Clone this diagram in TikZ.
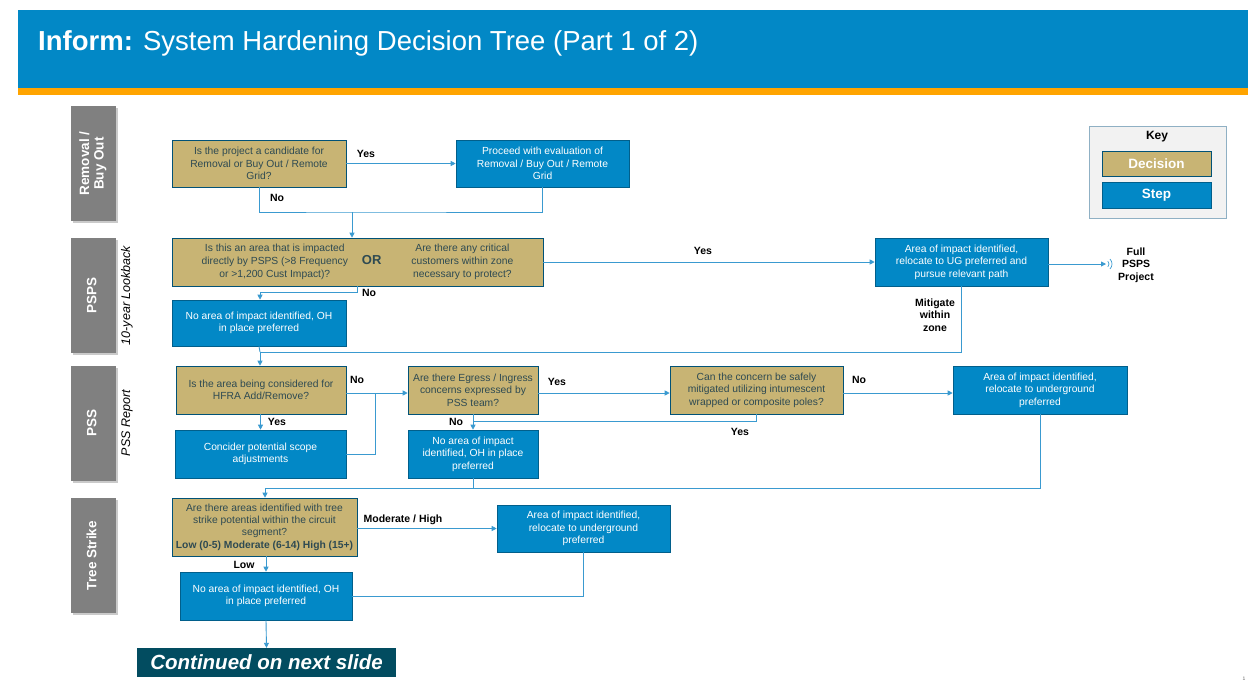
\documentclass[tikz,border=0pt]{standalone}
\usepackage{fontspec}
\setmainfont{Liberation Sans}
\usetikzlibrary{arrows.meta,shadows}

\definecolor{hdrblue}{HTML}{0288C6}
\definecolor{hdrorange}{HTML}{FFA400}
\definecolor{stepblue}{HTML}{0288C6}
\definecolor{dectan}{HTML}{C8B474}
\definecolor{dectext}{HTML}{2E4A52}
\definecolor{lanegray}{HTML}{808080}
\definecolor{linkblue}{HTML}{3A9AD0}
\definecolor{contteal}{HTML}{024C60}
\definecolor{keyfill}{HTML}{F2F2F2}
\definecolor{keydraw}{HTML}{8FB0C4}

\newcommand{\boxfont}{\fontsize{10.3}{12.4}\selectfont}

\begin{document}
\begin{tikzpicture}[x=1pt, y=-1pt,
    % box styles
    dims/.style 2 args={minimum width=#1pt, minimum height=#2pt},
    decision/.style={draw=stepblue!60!black, fill=dectan, text=dectext, font=\boxfont, align=center, inner sep=1pt, line width=0.6pt},
    stepbox/.style={draw=stepblue!70!black, fill=stepblue, text=white, font=\boxfont, align=center, inner sep=1pt, line width=0.6pt},
    lane/.style={fill=lanegray, text=white, font=\fontsize{13.5}{14.5}\selectfont\bfseries, minimum width=45pt, minimum height=115pt, inner sep=0pt,
        drop shadow={shadow xshift=2pt, shadow yshift=-2pt, fill=black!35, opacity=0.6}},
    lane note/.style={rotate=90, font=\fontsize{12.5}{14}\selectfont\itshape, text=black},
    % label and connector styles
    lbl/.style={font=\fontsize{10.5}{12.5}\selectfont\bfseries, text=black, align=center, inner sep=1pt},
    link/.style={draw=linkblue, line width=0.9pt},
    arrow link/.style={link, -{Triangle[length=5pt, width=5pt]}}
]
\useasboundingbox (0,0) rectangle (1248,683);

% Header
\fill[hdrblue] (18,10) rectangle (1248,88);
\fill[hdrorange] (18,88) rectangle (1248,95);
\node[anchor=west, text=white, font=\fontsize{27.5}{32}\selectfont, inner sep=0pt] (title) at (38,43)
    {\textbf{Inform:} System Hardening Decision Tree (Part 1 of 2)};

% Swim lanes
\foreach \name/\y/\txt in {laneRem/163.5/{Removal /\\Buy Out}, lanePsps/295.5/{PSPS}, lanePss/423/{PSS}, laneTree/555.5/{Tree Strike}}{
    \node[lane] (\name) at (93.5,\y) {\rotatebox{90}{\begin{tabular}{@{}c@{}}\txt\end{tabular}}};
}
\node[lane note] (noteLookback) at (127,295.5) {10-year Lookback};
\node[lane note] (noteReport) at (127,423) {PSS Report};

% Key
\node[draw=keydraw, fill=keyfill, line width=0.8pt, dims={137}{92}] (key) at (1157.5,172) {};
\node[font=\fontsize{12}{14}\selectfont\bfseries] (keyTitle) at (1157,137) {Key};
\node[decision, dims={109}{25}, text=white, font=\fontsize{13.5}{14}\selectfont\bfseries] (keyDec) at (1156.5,163.5) {Decision};
\node[stepbox, dims={109}{26}, font=\fontsize{13.5}{14}\selectfont\bfseries] (keyStep) at (1156.5,195) {Step};

% Removal / Buy Out
\node[decision, dims={174}{47}] (dRem) at (259,163.5) {Is the project a candidate for\\Removal or Buy Out / Remote\\Grid?};
\node[stepbox, dims={173}{47}] (sRem) at (542.5,163.5) {Proceed with evaluation of\\Removal / Buy Out / Remote\\Grid};

% PSPS
\node[decision, dims={371}{48}] (dPsps) at (357.5,262)
    {\begin{tabular}{@{}c@{\hspace{14pt}}c@{\hspace{30pt}}c@{}}
     Is this an area that is impacted & & Are there any critical\\
     directly by PSPS (>8 Frequency & {\fontsize{13}{12.4}\selectfont\bfseries OR} & customers within zone\\
     or >1,200 Cust Impact)? & & necessary to protect?
     \end{tabular}};
\node[stepbox, dims={173}{48}] (sPsps) at (961.5,262) {Area of impact identified,\\relocate to UG preferred and\\pursue relevant path};
\node[stepbox, dims={174}{46}] (sPspsNo) at (259,323) {No area of impact identified, OH\\in place preferred};
\node[lbl] (fullPsps) at (1136,265) {Full\\PSPS\\Project};

% PSS
\node[decision, dims={170}{48}] (dHfra) at (261,390) {Is the area being considered for\\HFRA Add/Remove?};
\node[stepbox, dims={171}{48}] (sScope) at (260.5,454) {Concider potential scope\\adjustments};
\node[decision, dims={130}{48}] (dEgress) at (473,390) {Are there Egress / Ingress\\concerns expressed by\\PSS team?};
\node[decision, dims={173}{48}] (dPoles) at (756.5,390) {Can the concern be safely\\mitigated utilizing intumescent\\wrapped or composite poles?};
\node[stepbox, dims={174}{48}] (sUgPss) at (1040,390) {Area of impact identified,\\relocate to underground\\preferred};
\node[stepbox, dims={130}{48}] (sNoPss) at (473,454) {No area of impact\\identified, OH in place\\preferred};

% Tree Strike
\node[decision, dims={185}{58}] (dTree) at (264.5,527) {Are there areas identified with tree\\strike potential within the circuit\\segment?\\\textbf{Low (0-5) Moderate (6-14) High (15+)}};
\node[stepbox, dims={173}{47}] (sUgTree) at (583.5,528.5) {Area of impact identified,\\relocate to underground\\preferred};
\node[stepbox, dims={172}{48}] (sNoTree) at (266,596) {No area of impact identified, OH\\in place preferred};
\node[fill=contteal, text=white, font=\fontsize{20.5}{22}\selectfont\bfseries\itshape, dims={259}{29}, inner sep=0pt] (cont) at (266.5,662.5) {Continued on next slide};

% Junction points
\coordinate (jRem) at (352,212);
\coordinate (jPsps) at (260,292);
\coordinate (jMit) at (260,352);
\coordinate (jScope) at (375,393);
\coordinate (jPoles) at (473,421);
\coordinate (jPss) at (265,488);
\coordinate (fullTip) at (1106,264);

% Connectors: Removal / Buy Out
\draw[arrow link] (dRem.east) -- (sRem.west);
\draw[link] (dRem.south) |- (jRem) -| (sRem.south);
\draw[arrow link] (jRem) -- (jRem |- dPsps.north);

% Connectors: PSPS
\draw[arrow link] (dPsps.east) -- (sPsps.west);
\draw[arrow link] (sPsps.east |- fullTip) -- (fullTip);
\draw[link, line width=0.7pt] ([xshift=-1pt]fullTip) ++(-45:4) arc[start angle=-45, end angle=45, radius=4];
\draw[link, line width=0.7pt] ([xshift=-1pt]fullTip) ++(-45:7) arc[start angle=-45, end angle=45, radius=7];
\draw[link] (dPsps.south) |- (jPsps);
\draw[arrow link] (jPsps) -- (jPsps |- sPspsNo.north);
\draw[link] (sPsps.south) |- (jMit);
\draw[link] (sPspsNo.south) -- (jMit);
\draw[arrow link] (jMit) -- (jMit |- dHfra.north);

% Connectors: PSS
\draw[arrow link] (dHfra.south -| sScope.north) -- (sScope.north);
\draw[link] (sScope.east) -| (jScope);
\draw[arrow link] (dHfra.east |- jScope) -- (dEgress.west |- jScope);
\draw[arrow link] (dEgress.east |- jScope) -- (dPoles.west |- jScope);
\draw[arrow link] (dPoles.east |- jScope) -- (sUgPss.west |- jScope);
\draw[link] (dPoles.south) |- (jPoles);
\draw[arrow link] (dEgress.south) -- (sNoPss.north);
\draw[link] (sNoPss.south) |- (jPss);
\draw[link] (sUgPss.south) |- (sNoPss.south |- jPss);
\draw[arrow link] (jPss) -- (jPss |- dTree.north);

% Connectors: Tree Strike
\draw[arrow link] (dTree.east |- sUgTree.west) -- (sUgTree.west);
\draw[arrow link] (dTree.south -| sNoTree.north) -- (sNoTree.north);
\draw[link] (sUgTree.south) |- (sNoTree.east);
\draw[arrow link] (sNoTree.south) -- (cont.north);

% Connector labels
\node[lbl] (yesRem) at (366,154) {Yes};
\node[lbl] (noRem) at (277,198) {No};
\node[lbl] (yesPsps) at (703,251) {Yes};
\node[lbl] (noPsps) at (369,293) {No};
\node[lbl] (mitigate) at (935,315) {Mitigate\\within\\zone};
\node[lbl] (noHfra) at (357,380) {No};
\node[lbl] (yesHfra) at (277,422) {Yes};
\node[lbl] (yesEgress) at (557,382) {Yes};
\node[lbl] (noEgress) at (456,422) {No};
\node[lbl] (noPoles) at (859,380) {No};
\node[lbl] (yesPoles) at (740,432) {Yes};
\node[lbl] (modHigh) at (403,520) {Moderate / High};
\node[lbl] (low) at (244,565) {Low};

% Page number
\node[font=\fontsize{5}{6}\selectfont, text=black!60, inner sep=0pt] (pageNo) at (1244,679) {1};
\end{tikzpicture}
\end{document}
